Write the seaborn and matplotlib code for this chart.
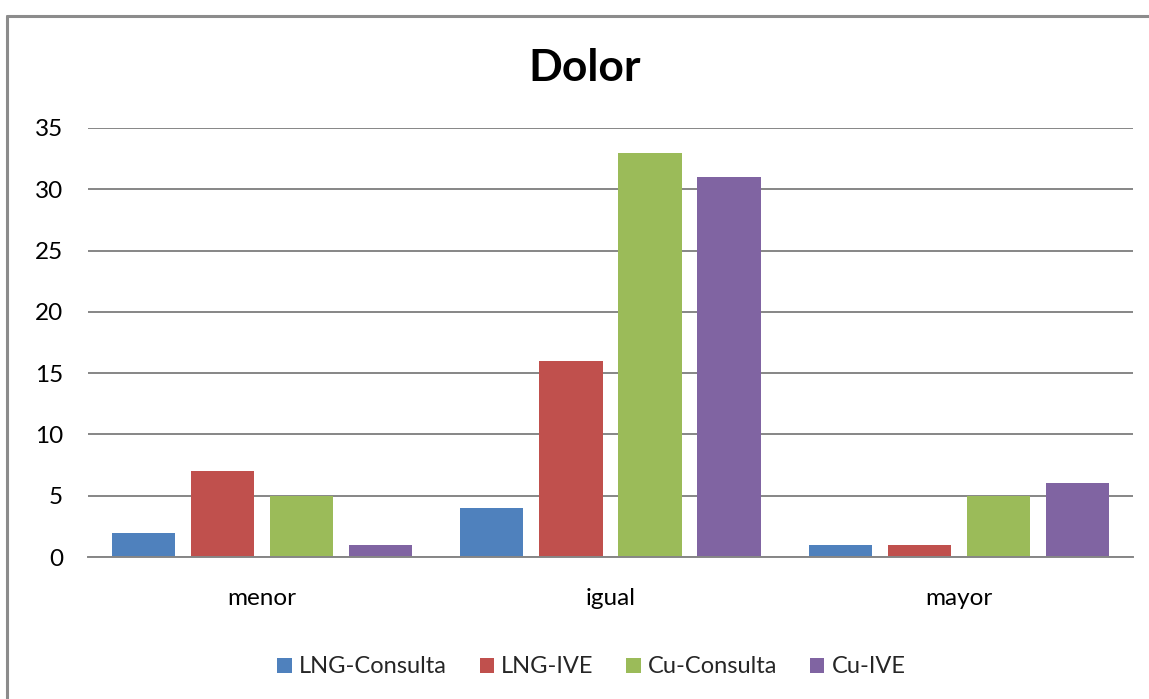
import numpy as np
import pandas as pd
import matplotlib
matplotlib.use("Agg")
import matplotlib.pyplot as plt
from matplotlib.lines import Line2D
import seaborn as sns

# datos
categorias = ["menor", "igual", "mayor"]
series = ["LNG-Consulta", "LNG-IVE", "Cu-Consulta", "Cu-IVE"]
lng_consulta = [2, 4, 1]
lng_ive = [7, 16, 1]
cu_consulta = [5, 33, 5]
cu_ive = [1, 31, 6]
colores = ["#4F81BD", "#C0504D", "#9BBB59", "#8064A2"]

df = pd.DataFrame({
    "categoria": categorias * 4,
    "serie": np.repeat(series, 3),
    "valor": lng_consulta + lng_ive + cu_consulta + cu_ive,
})

sns.set_style("white")
plt.rcParams["font.family"] = ["Lato", "DejaVu Sans"]

fig = plt.figure(figsize=(11.49, 6.99), dpi=100)
ax = fig.add_axes([0.0766, 0.2031, 0.9094, 0.6138])

sns.barplot(data=df, x="categoria", y="valor", hue="serie", order=categorias,
            hue_order=series, palette=colores, width=0.908, gap=0.2,
            saturation=1, linewidth=0, ax=ax, legend=True)

ax.set_ylim(0, 35)
ax.set_xlim(-0.5, 2.5)
ax.set_yticks(range(0, 36, 5))
ax.yaxis.grid(True, color="#868686", linewidth=1.4)
ax.set_axisbelow(True)
for s in ["top", "right", "left"]:
    ax.spines[s].set_visible(False)
ax.spines["bottom"].set_color("#868686")
ax.spines["bottom"].set_linewidth(1.4)
ax.tick_params(axis="both", length=0, colors="black")
ax.tick_params(axis="y", pad=18, labelsize=17.5)
ax.tick_params(axis="x", pad=22, labelsize=17.5)
ax.set_xlabel("")
ax.set_ylabel("")

fig.text(0.509, 0.903, "Dolor", ha="center", va="center", fontsize=32,
         fontweight="bold", color="black")

handles, labels = ax.get_legend_handles_labels()
ax.legend(handles, labels, loc="center", bbox_to_anchor=(0.4818, -0.256), ncol=4,
          frameon=False, fontsize=17, handlelength=0.6, handleheight=0.6,
          handletextpad=0.3, columnspacing=1.4)

# marco gris del área del gráfico
fig.add_artist(Line2D([7 / 1149, 7 / 1149], [0, 1 - 16 / 699], color="#8c8c8c", lw=2.2))
fig.add_artist(Line2D([7 / 1149, 1], [1 - 16 / 699, 1 - 16 / 699], color="#8c8c8c", lw=2.2))

fig.savefig("out.png", dpi=100)
